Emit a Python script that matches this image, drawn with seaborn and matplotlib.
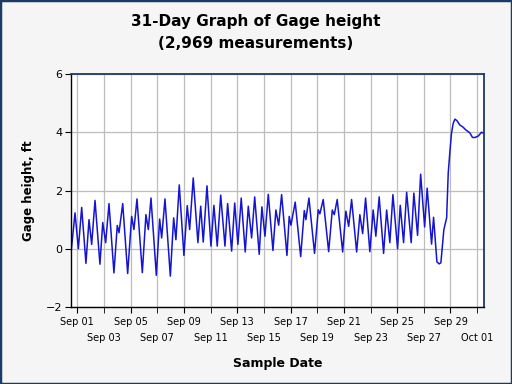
import pandas as pd
import matplotlib
matplotlib.use('Agg')
import matplotlib.pyplot as plt
import seaborn as sns
from matplotlib.patches import Rectangle

days = [-0.47, -0.17, 0.08, 0.33, 0.65, 0.88, 1.08, 1.33, 1.70, 1.91, 2.13, 2.38, 2.75, 3.00, 3.13, 3.41,
        3.78, 4.08, 4.25, 4.48, 4.88, 5.15, 5.33, 5.53, 5.93, 6.18, 6.33, 6.58, 6.98, 7.23, 7.40, 7.65,
        8.00, 8.25, 8.43, 8.70, 9.05, 9.26, 9.45, 9.73, 10.03, 10.25, 10.50, 10.76, 11.08, 11.28, 11.58,
        11.81, 12.05, 12.30, 12.60, 12.83, 13.08, 13.31, 13.65, 13.85, 14.08, 14.33, 14.68, 14.90, 15.11,
        15.33, 15.73, 15.90, 16.03, 16.35, 16.76, 17.03, 17.15, 17.38, 17.80, 18.08, 18.20, 18.45, 18.86,
        19.13, 19.28, 19.50, 19.91, 20.15, 20.36, 20.58, 20.96, 21.20, 21.41, 21.63, 21.95, 22.20, 22.40,
        22.65, 22.98, 23.21, 23.45, 23.68, 24.03, 24.23, 24.48, 24.71, 25.05, 25.25, 25.53, 25.76, 26.06,
        26.25, 26.58, 26.73, 26.98, 27.15, 27.28, 27.50, 27.71, 27.83, 27.95, 28.07, 28.20, 28.33, 28.48,
        28.70, 28.93, 29.15, 29.45, 29.65, 29.83, 30.08, 30.33, 30.50]
gage = [-0.14, 1.23, 0.00, 1.42, -0.50, 1.00, 0.15, 1.66, -0.53, 0.90, 0.21, 1.55, -0.83, 0.80, 0.55, 1.55,
        -0.85, 1.11, 0.66, 1.71, -0.82, 1.17, 0.66, 1.74, -0.91, 1.02, 0.37, 1.71, -0.94, 1.06, 0.31, 2.19,
        -0.23, 1.48, 0.66, 2.43, 0.21, 1.46, 0.23, 2.16, 0.09, 1.49, 0.09, 1.84, 0.09, 1.55, -0.08,
        1.57, 0.15, 1.74, -0.11, 1.46, 0.37, 1.78, -0.19, 1.44, 0.43, 1.87, -0.06, 1.33, 0.81,
        1.86, -0.23, 1.11, 0.81, 1.60, -0.27, 1.31, 1.00, 1.74, -0.16, 1.34, 1.20, 1.69, -0.10,
        1.33, 1.17, 1.69, -0.11, 1.29, 0.77, 1.69, -0.11, 1.17, 0.52, 1.74, -0.10, 1.33, 0.43,
        1.78, -0.16, 1.33, 0.21, 1.86, 0.00, 1.49, 0.21, 1.94, 0.21, 1.91, 0.46, 2.56, 0.75,
        2.08, 0.16, 1.08, -0.45, -0.52, -0.48, 0.65, 1.06, 2.60, 3.30, 3.95, 4.30, 4.45, 4.40,
        4.25, 4.18, 4.08, 3.98, 3.82, 3.82, 3.87, 4.00, 3.96]

start = pd.Timestamp('2023-09-01')
df = pd.DataFrame({'date': start + pd.to_timedelta(days, unit='D'), 'gage': gage})

# labels alternate between two rows: upper row on major ticks, lower row on minor ticks
upper_dates = pd.date_range('2023-09-01', '2023-09-29', freq='4D')
lower_dates = pd.date_range('2023-09-03', '2023-10-01', freq='4D')

sns.set_style('white')
plt.rcParams['font.family'] = ['DejaVu Sans']
plt.rcParams['text.color'] = 'black'
plt.rcParams['axes.labelcolor'] = 'black'
plt.rcParams['xtick.color'] = 'black'
plt.rcParams['ytick.color'] = 'black'

fig = plt.figure(figsize=(5.12, 3.84), dpi=100, facecolor='#f5f5f5')
ax = fig.add_axes([0.1387, 0.2005, 0.8073, 0.6068])
ax.set_facecolor('white')

sns.lineplot(data=df, x='date', y='gage', ax=ax, color='#1414d2', linewidth=1.1)

ax.set_xlim(start + pd.Timedelta(days=-0.47), start + pd.Timedelta(days=30.54))
ax.set_ylim(-2, 6)
ax.set_yticks([-2, 0, 2, 4, 6])
ax.set_xticks(upper_dates)
ax.set_xticklabels([d.strftime('%b %d') for d in upper_dates], fontsize=7)
ax.set_xticks(lower_dates, minor=True)
ax.set_xticklabels([d.strftime('%b %d') for d in lower_dates], minor=True, fontsize=7)
ax.tick_params(axis='y', labelsize=8, length=4, direction='out', pad=2)
ax.tick_params(axis='x', which='major', length=4, direction='out', pad=3)
ax.tick_params(axis='x', which='minor', length=4, direction='out', pad=15)
ax.tick_params(left=True, bottom=True)
ax.tick_params(axis='x', which='minor', bottom=True)
ax.grid(True, which='both', color='#bdbdbd', linewidth=0.9)
ax.set_axisbelow(True)

for side in ['left', 'bottom']:
    ax.spines[side].set_color('black')
    ax.spines[side].set_linewidth(1)
for side in ['top', 'right']:
    ax.spines[side].set_color('#1c3a66')
    ax.spines[side].set_linewidth(1.3)

ax.set_xlabel('Sample Date', fontsize=9, fontweight='bold', labelpad=10)
ax.set_ylabel('Gage height, ft', fontsize=8.5, fontweight='bold', labelpad=8)
fig.text(0.5, 0.945, '31-Day Graph of Gage height', ha='center', va='center',
         fontsize=11, fontweight='bold')
fig.text(0.5, 0.888, '(2,969 measurements)', ha='center', va='center',
         fontsize=11, fontweight='bold')

fig.patches.append(Rectangle((0, 0), 1, 1, transform=fig.transFigure, fill=False,
                             edgecolor='#1c3a66', linewidth=2.5, zorder=10))

fig.savefig('out.png', dpi=100, facecolor=fig.get_facecolor())
